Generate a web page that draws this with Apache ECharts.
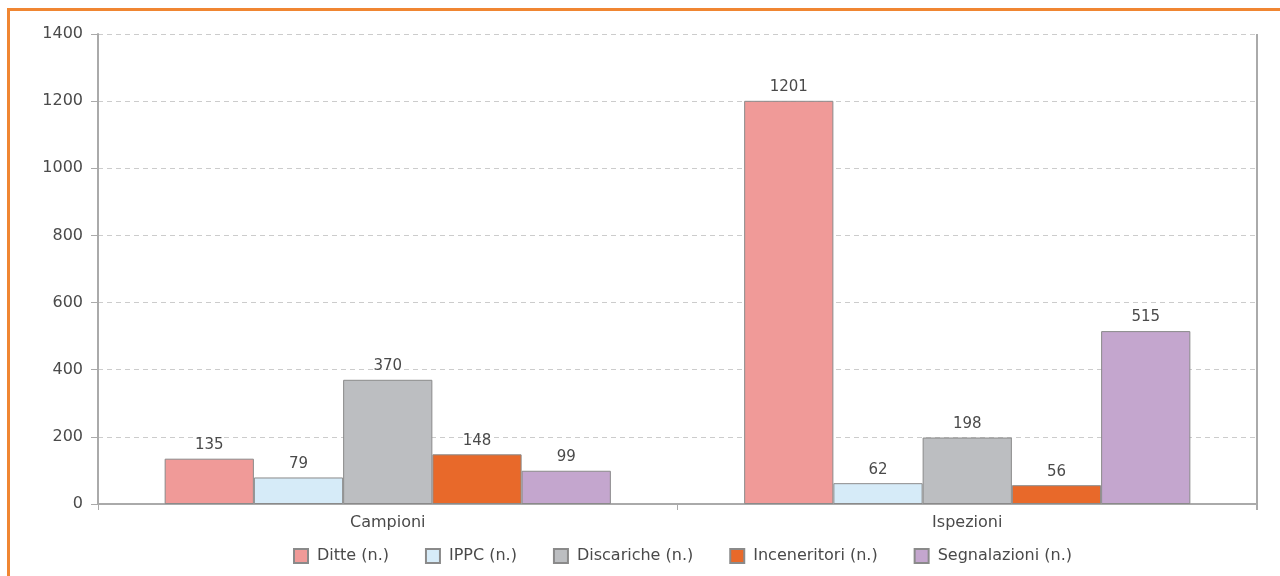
<!DOCTYPE html>
<html>
<head>
<meta charset="utf-8">
<style>
  html, body { margin: 0; padding: 0; background: #ffffff; }
  #chart { position: absolute; left: 0; top: 0; width: 1280px; height: 576px; }
  #frame { position: absolute; left: 7px; top: 8px; width: 1290px; height: 600px;
           border-top: 3px solid #f08632; border-left: 3px solid #f08632; pointer-events: none; }
</style>
<script src="https://cdn.jsdelivr.net/npm/echarts@6/dist/echarts.min.js"></script>
</head>
<body>
<div id="chart"></div>
<div id="frame"></div>
<script>
// Categories and series values
const categories = ['Campioni', 'Ispezioni'];
const seriesNames = ['Ditte (n.)', 'IPPC (n.)', 'Discariche (n.)', 'Inceneritori (n.)', 'Segnalazioni (n.)'];
const ditte = [135, 1201];
const ippc = [79, 62];
const discariche = [370, 198];
const inceneritori = [148, 56];
const segnalazioni = [99, 515];
const yTicks = [0, 200, 400, 600, 800, 1000, 1200, 1400];

const colors = ['#f09a98', '#d6ebf8', '#bcbec1', '#e8692a', '#c4a6ce'];
const values = [ditte, ippc, discariche, inceneritori, segnalazioni];
const fontFamily = '"DejaVu Sans", "Open Sans", sans-serif';
const textColor = '#4a4a4a';

const chart = echarts.init(document.getElementById('chart'));
chart.setOption({
  animation: false,
  backgroundColor: '#ffffff',
  textStyle: { fontFamily: fontFamily },
  grid: { left: 98, right: 23, top: 34, bottom: 72, show: false },
  legend: {
    left: 288, bottom: 7,
    itemWidth: 14, itemHeight: 14, itemGap: 36,
    icon: 'rect',
    textStyle: { fontSize: 16, color: textColor, fontFamily: fontFamily, padding: [0, 0, 0, 4] },
    data: seriesNames
  },
  xAxis: {
    type: 'category',
    data: categories,
    axisLine: { lineStyle: { color: '#aaaaaa', width: 2 } },
    axisTick: { show: true, length: 6, lineStyle: { color: '#aaaaaa' } },
    axisLabel: { fontSize: 16, color: textColor, margin: 11 }
  },
  yAxis: {
    type: 'value',
    min: yTicks[0], max: yTicks[yTicks.length - 1], interval: 200,
    axisLine: { show: true, lineStyle: { color: '#aaaaaa', width: 2 } },
    axisTick: { show: true, length: 7, lineStyle: { color: '#aaaaaa' } },
    axisLabel: { fontSize: 16, color: textColor, margin: 15, formatter: v => String(v) },
    splitLine: { lineStyle: { color: '#cccccc', type: [5, 4] } }
  },
  graphic: [{
    type: 'line', z: 0,
    shape: { x1: 1257, y1: 34, x2: 1257, y2: 510 },
    style: { stroke: '#aaaaaa', lineWidth: 2 }
  }],
  series: seriesNames.map((name, i) => ({
    name: name,
    type: 'bar',
    data: values[i],
    barGap: '0%',
    barCategoryGap: '23%',
    itemStyle: { color: colors[i], borderColor: '#8a8a8a', borderWidth: 1 },
    label: { show: true, position: 'top', distance: 6, fontSize: 15, color: textColor }
  }))
});
</script>
</body>
</html>
